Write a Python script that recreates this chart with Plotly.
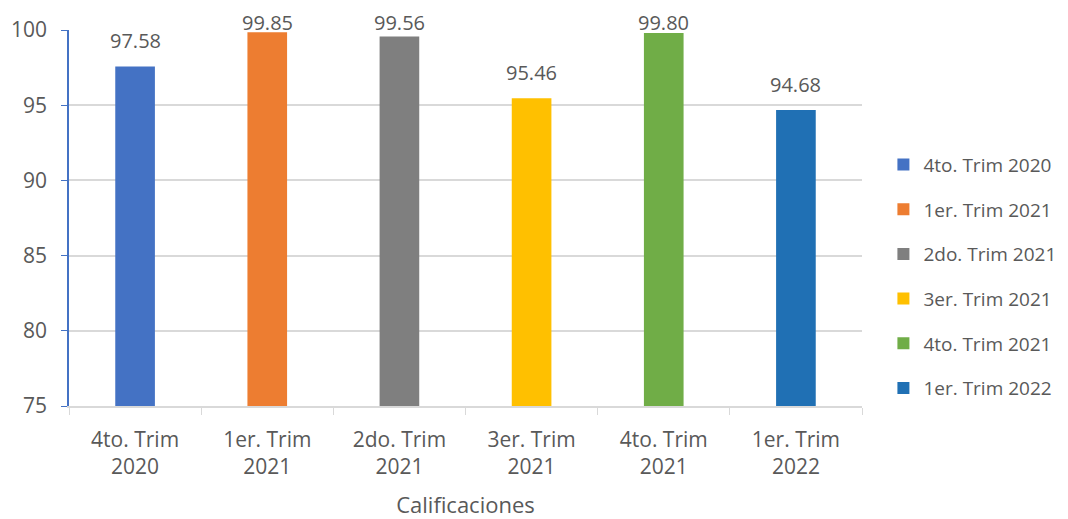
import plotly.graph_objects as go

periodos = ["4to. Trim 2020", "1er. Trim 2021", "2do. Trim 2021",
            "3er. Trim 2021", "4to. Trim 2021", "1er. Trim 2022"]
etiquetas_eje = ["4to. Trim<br>2020", "1er. Trim<br>2021", "2do. Trim<br>2021",
                 "3er. Trim<br>2021", "4to. Trim<br>2021", "1er. Trim<br>2022"]
calificaciones = [97.58, 99.85, 99.56, 95.46, 99.80, 94.68]
colores = ["#4472C4", "#ED7D31", "#7F7F7F", "#FFC000", "#70AD47", "#2070B4"]

FUENTE = "'Open Sans', sans-serif"
GRIS_TEXTO = "#595959"

ANCHO, ALTO = 1068, 519
M_IZQ, M_DER, M_SUP, M_INF = 69, 206, 30, 113
Y_MIN, Y_MAX = 75, 100
alto_area = ALTO - M_SUP - M_INF

fig = go.Figure()
for nombre, eje, valor, color in zip(periodos, etiquetas_eje, calificaciones, colores):
    fig.add_trace(go.Bar(
        x=[eje], y=[valor], name=nombre, legendgroup=nombre,
        marker=dict(color=color, line=dict(width=0)),
        width=0.3,
    ))

# Data labels: sit above each bar, but are kept inside the chart near the top edge
for eje, valor in zip(etiquetas_eje, calificaciones):
    tope_px = (Y_MAX - valor) / (Y_MAX - Y_MIN) * alto_area
    desplaz = min(10, tope_px - 8)
    fig.add_annotation(
        x=eje, y=valor, text=f"{valor:.2f}", showarrow=False,
        xanchor="center", yanchor="bottom", yshift=desplaz,
        font=dict(size=20, color=GRIS_TEXTO, family=FUENTE),
    )

fig.update_layout(
    width=ANCHO, height=ALTO,
    margin=dict(l=M_IZQ, r=M_DER, t=M_SUP, b=M_INF, autoexpand=False),
    paper_bgcolor="white", plot_bgcolor="white",
    barmode="overlay",
    font=dict(family=FUENTE, color=GRIS_TEXTO, size=19),
    showlegend=True,
    legend=dict(
        x=1.027, y=0.344, xanchor="left", yanchor="middle",
        font=dict(size=19, color=GRIS_TEXTO, family=FUENTE),
        traceorder="grouped", tracegroupgap=17,
        itemwidth=30, bgcolor="rgba(0,0,0,0)",
    ),
)

fig.update_yaxes(
    range=[Y_MIN, Y_MAX], dtick=5, tick0=75,
    showgrid=True, gridcolor="#D9D9D9", gridwidth=1.5,
    showline=True, linecolor="#4472C4", linewidth=1.5,
    ticks="outside", ticklen=6, tickcolor="#4472C4",
    tickfont=dict(size=21, color=GRIS_TEXTO, family=FUENTE),
    zeroline=False, ticklabelstandoff=10,
)
fig.update_xaxes(
    categoryorder="array", categoryarray=etiquetas_eje,
    showline=True, linecolor="#D9D9D9", linewidth=1.5,
    ticks="outside", tickson="boundaries", ticklen=7, tickcolor="#D9D9D9",
    tickfont=dict(size=21, color=GRIS_TEXTO, family=FUENTE),
    ticklabelstandoff=14,
    title=dict(text="Calificaciones", font=dict(size=22, color=GRIS_TEXTO, family=FUENTE), standoff=21),
    showgrid=False,
)

fig.write_html("out.html")
